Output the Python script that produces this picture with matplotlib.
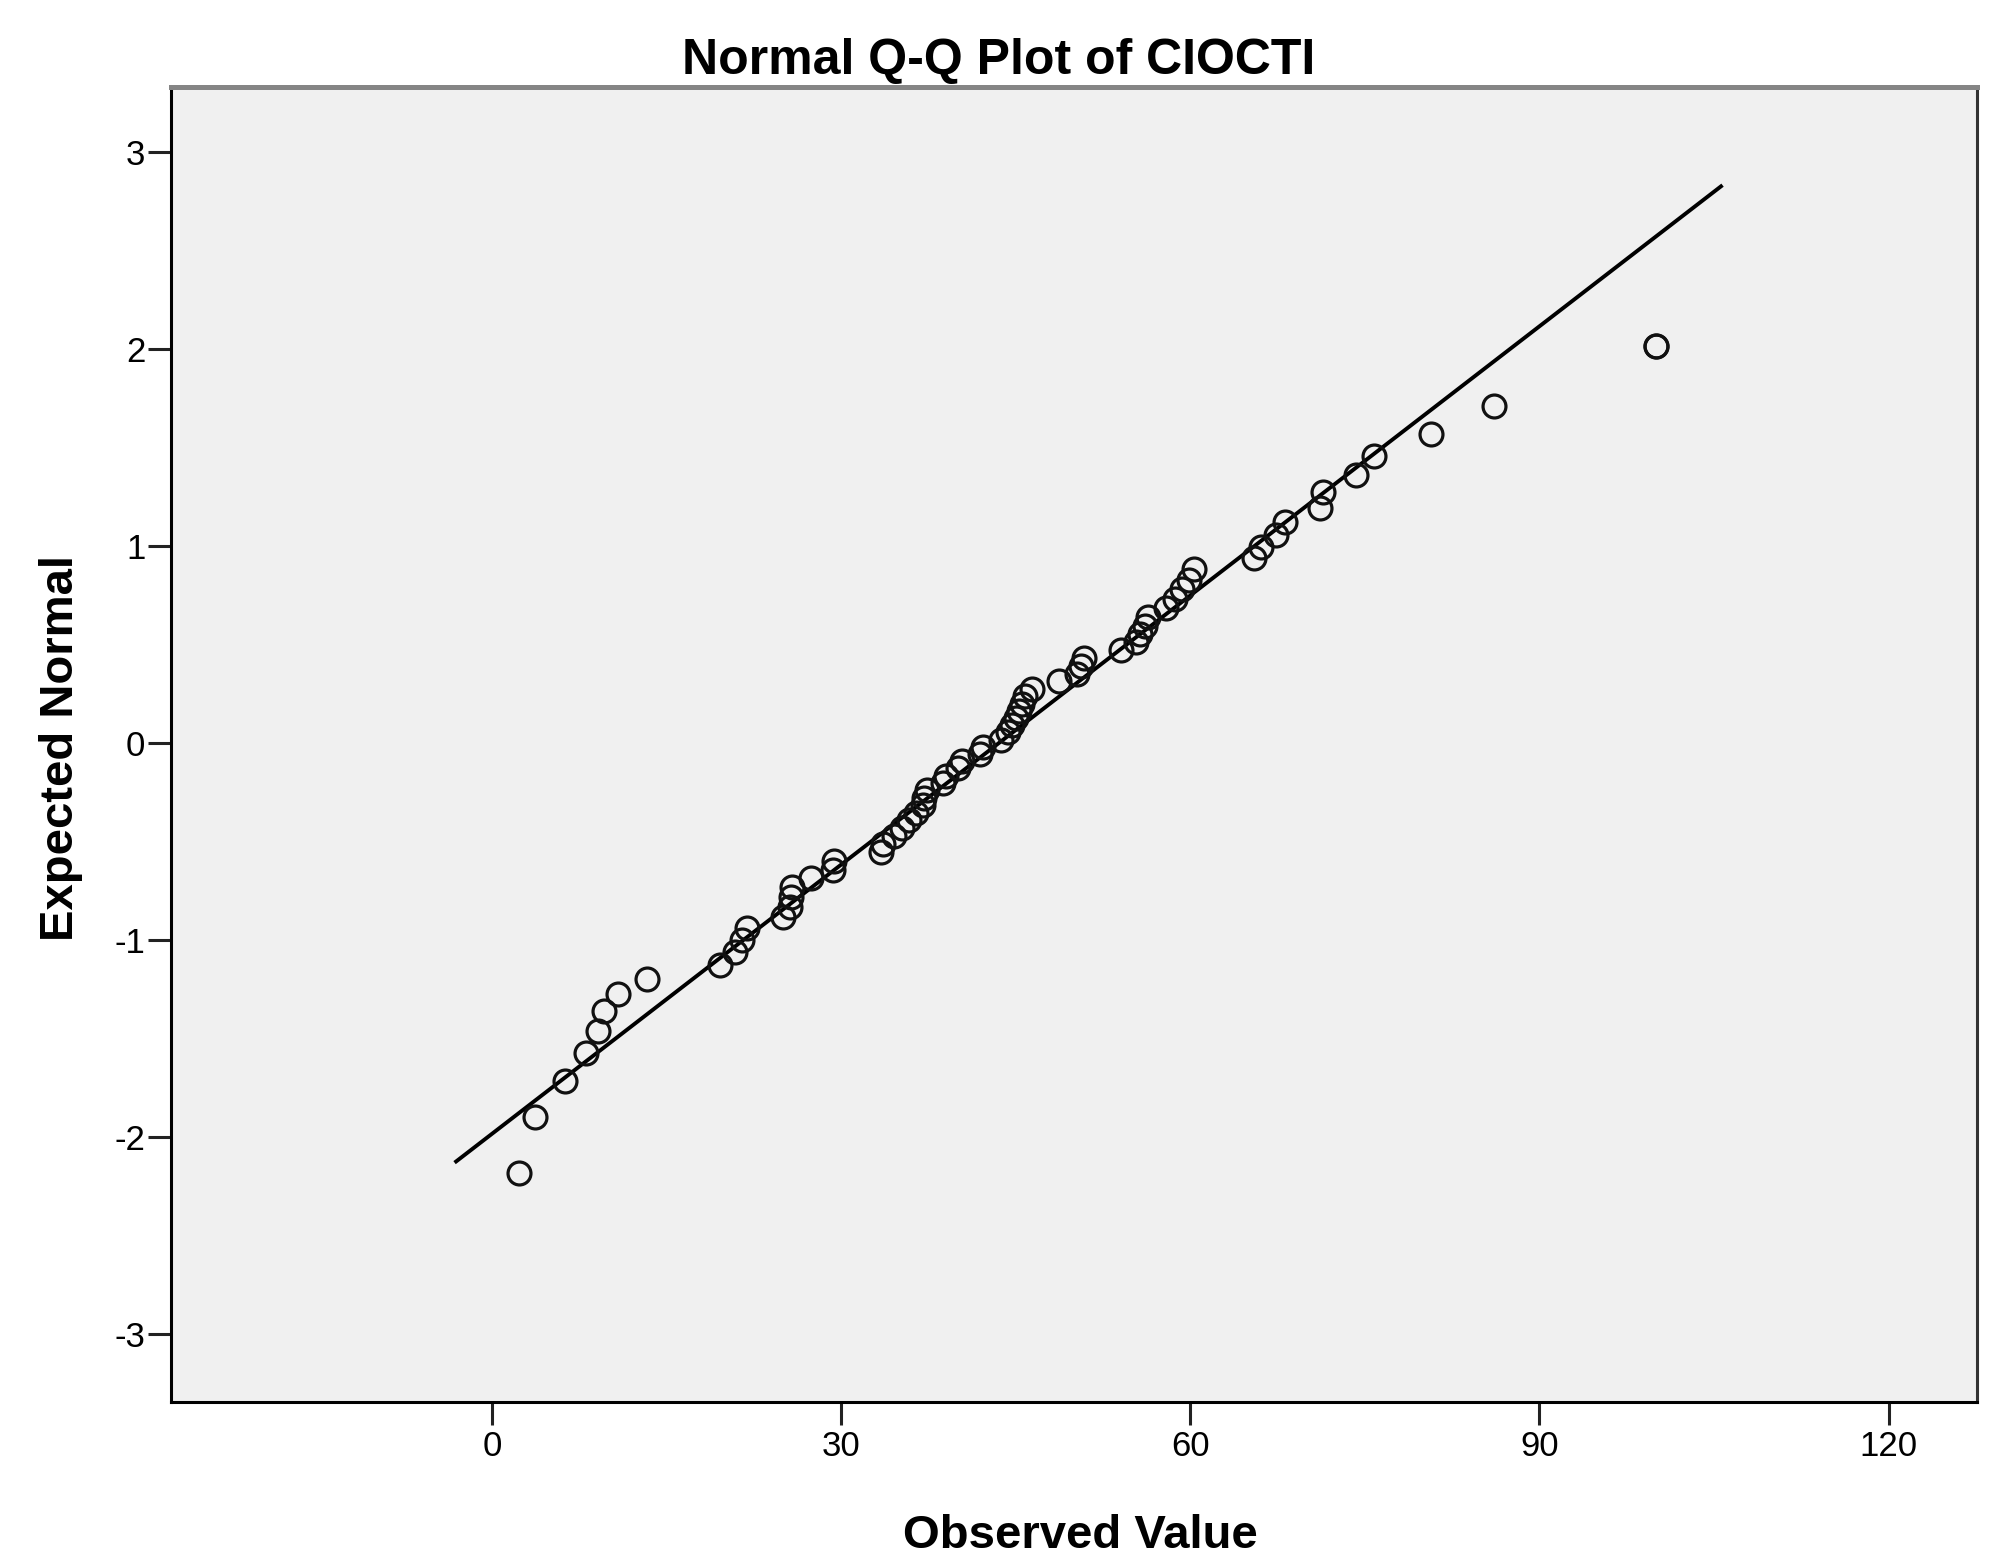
import numpy as np
import matplotlib
matplotlib.use("Agg")
import matplotlib.pyplot as plt
from matplotlib import font_manager

# ---- data ----
observed_value = [2.3, 3.7, 6.3, 8.1, 9.1, 9.6, 10.8, 13.3, 19.6, 20.9,
                  21.5, 21.9, 25.0, 25.6, 25.7, 25.8, 27.4, 29.3, 29.4, 33.4,
                  33.6, 34.5, 35.2, 35.8, 36.4, 37.0, 37.1, 37.4, 38.7, 39.0,
                  40.0, 40.4, 41.9, 42.2, 43.7, 44.3, 44.7, 45.0, 45.3, 45.5,
                  45.8, 46.4, 48.7, 50.3, 50.6, 50.9, 54.0, 55.3, 55.7, 56.1,
                  56.4, 57.9, 58.7, 59.3, 59.9, 60.3, 65.5, 66.1, 67.4, 68.1,
                  71.1, 71.4, 74.2, 75.8, 80.7, 86.1, 100.0, 100.0]
expected_normal = [-2.183, -1.896, -1.712, -1.572, -1.458, -1.360, -1.273, -1.195, -1.124, -1.058,
                   -0.997, -0.939, -0.884, -0.831, -0.781, -0.732, -0.686, -0.641, -0.597, -0.554,
                   -0.512, -0.471, -0.431, -0.391, -0.352, -0.314, -0.276, -0.239, -0.201, -0.164,
                   -0.128, -0.091, -0.055, -0.018, 0.018, 0.055, 0.091, 0.128, 0.164, 0.201,
                   0.239, 0.276, 0.314, 0.352, 0.391, 0.431, 0.471, 0.512, 0.554, 0.597,
                   0.641, 0.686, 0.732, 0.781, 0.831, 0.884, 0.939, 0.997, 1.058, 1.124,
                   1.195, 1.273, 1.360, 1.458, 1.572, 1.712, 2.019, 2.019]
line_x_range = [-3.1, 105.6]
x_ticks = [0, 30, 60, 90, 120]
y_ticks = [-3, -2, -1, 0, 1, 2, 3]
title = "Normal Q-Q Plot of CIOCTI"
x_label = "Observed Value"
y_label = "Expected Normal"

# ---- fonts ----
available = {f.name for f in font_manager.fontManager.ttflist}
narrow = "Liberation Sans Narrow" if "Liberation Sans Narrow" in available else "Liberation Sans"
tick_size = 26 if narrow == "Liberation Sans Narrow" else 25

fig = plt.figure(figsize=(20.12, 15.67), dpi=100)
fig.patch.set_facecolor("white")
ax = fig.add_axes([0.0850, 0.1055, 0.8976, 0.8392])
ax.set_facecolor("#F0F0F0")

# reference line from the observed data's mean and sd
obs = np.asarray(observed_value)
mu, sd = obs.mean(), obs.std(ddof=1)
lx = np.asarray(line_x_range)
ax.plot(lx, (lx - mu) / sd, color="black", lw=2.8, zorder=2)

ax.plot(observed_value, expected_normal, linestyle="none", marker="o",
        markersize=16.5, markerfacecolor="none", markeredgecolor="#111111",
        markeredgewidth=2.3, zorder=3)

ax.set_xlim(-27.6, 127.6)
ax.set_ylim(-3.342, 3.333)
ax.set_xticks(x_ticks)
ax.set_yticks(y_ticks)
ax.set_xticklabels([str(v) for v in x_ticks], family=narrow, fontsize=tick_size)
ax.set_yticklabels([str(v) for v in y_ticks], family=narrow, fontsize=tick_size)
ax.tick_params(axis="both", direction="out", length=16.5, width=2.2, color="#222222")
ax.tick_params(axis="x", pad=4)
ax.tick_params(axis="y", pad=2)

for side, col, lw in [("left", "black", 2.2), ("bottom", "black", 2.2),
                      ("top", "#858585", 3.6), ("right", "#333333", 2.2)]:
    ax.spines[side].set_color(col)
    ax.spines[side].set_linewidth(lw)

fig.text(0.4965, 0.953, title, ha="center", va="baseline",
         family="Liberation Sans", fontweight="bold", fontsize=36)
fig.text(0.537, 0.0123, x_label, ha="center", va="baseline",
         family="Liberation Sans", fontweight="bold", fontsize=34)
fig.text(0.0301, 0.5226, y_label, ha="center", va="center", rotation=90,
         family="Liberation Sans", fontweight="bold", fontsize=34)

fig.savefig("out.png", dpi=100, facecolor="white")
